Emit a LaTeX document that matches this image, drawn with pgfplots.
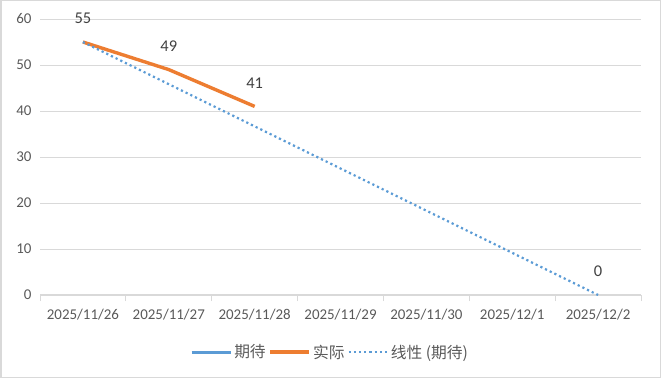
\documentclass[border=0pt]{standalone}
\usepackage{pgfplots}
\pgfplotsset{compat=1.18}
\usepackage{fontspec}
\setmainfont{Carlito}
\newfontfamily\cjk{Noto Sans CJK SC}
\definecolor{exblue}{HTML}{5B9BD5}
\definecolor{exorange}{HTML}{ED7D31}
\definecolor{gridgray}{HTML}{D9D9D9}
\definecolor{ticktext}{HTML}{595959}
\definecolor{labeltext}{HTML}{404040}
\begin{document}
\begin{tikzpicture}[x=1bp,y=1bp]
\path[use as bounding box] (0,0) rectangle (661,378);
\draw[gridgray, line width=1.5bp] (0.75,0.75) rectangle (660.25,377.25);
\begin{axis}[
  at={(40bp,83bp)}, anchor=south west,
  scale only axis, width=601bp, height=276bp,
  xmin=-0.5, xmax=6.5, ymin=0, ymax=60,
  ytick={0,10,20,30,40,50,60},
  xtick={0,1,2,3,4,5,6},
  xticklabels={2025/11/26,2025/11/27,2025/11/28,2025/11/29,2025/11/30,2025/12/1,2025/12/2},
  extra x ticks={-0.5,0.5,1.5,2.5,3.5,4.5,5.5,6.5},
  extra x tick labels={},
  extra x tick style={major tick length=6bp, tick align=outside, tick style={gridgray, line width=1bp}},
  axis x line*=bottom, axis y line*=left,
  x axis line style={gridgray, line width=1.2bp, -},
  y axis line style={draw=none},
  major tick length=0pt,
  ymajorgrids, grid style={gridgray, line width=1bp},
  tick label style={font=\fontsize{15}{18}\selectfont, text=ticktext},
  yticklabel style={xshift=-5bp},
  xticklabel style={yshift=-11bp},
  /pgf/number format/assume math mode=true,
  clip=false,
  legend columns=3,
  legend style={at={(0.4825,-0.207)}, anchor=center, draw=none, fill=none,
    font=\cjk\fontsize{15.8}{18}\selectfont, text=ticktext,
    /tikz/every even column/.append style={column sep=1bp}},
  legend image code/.code={\draw[#1] (-1bp,0bp) -- (38bp,0bp);},
  nodes near coords style={font=\fontsize{16.5}{19}\selectfont, text=labeltext, anchor=center, yshift=23.5bp},
]
\addplot[exblue, line width=3.2bp, unbounded coords=jump, nodes near coords] coordinates {(0,55) (1,nan) (2,nan) (3,nan) (4,nan) (5,nan) (6,0)};
\addlegendentry{期待}
\addplot[exorange, line width=3.4bp, line join=round] coordinates {(0,55) (1,49) (2,41)};
\addlegendentry{实际}
\addplot[exblue, line width=2.2bp, dash pattern=on 2.2bp off 3bp] coordinates {(0,55) (6,0)};
\addlegendentry{线性 (期待)}
\addplot[draw=none, forget plot, nodes near coords] coordinates {(1,49) (2,41)};
\end{axis}
\end{tikzpicture}
\end{document}
